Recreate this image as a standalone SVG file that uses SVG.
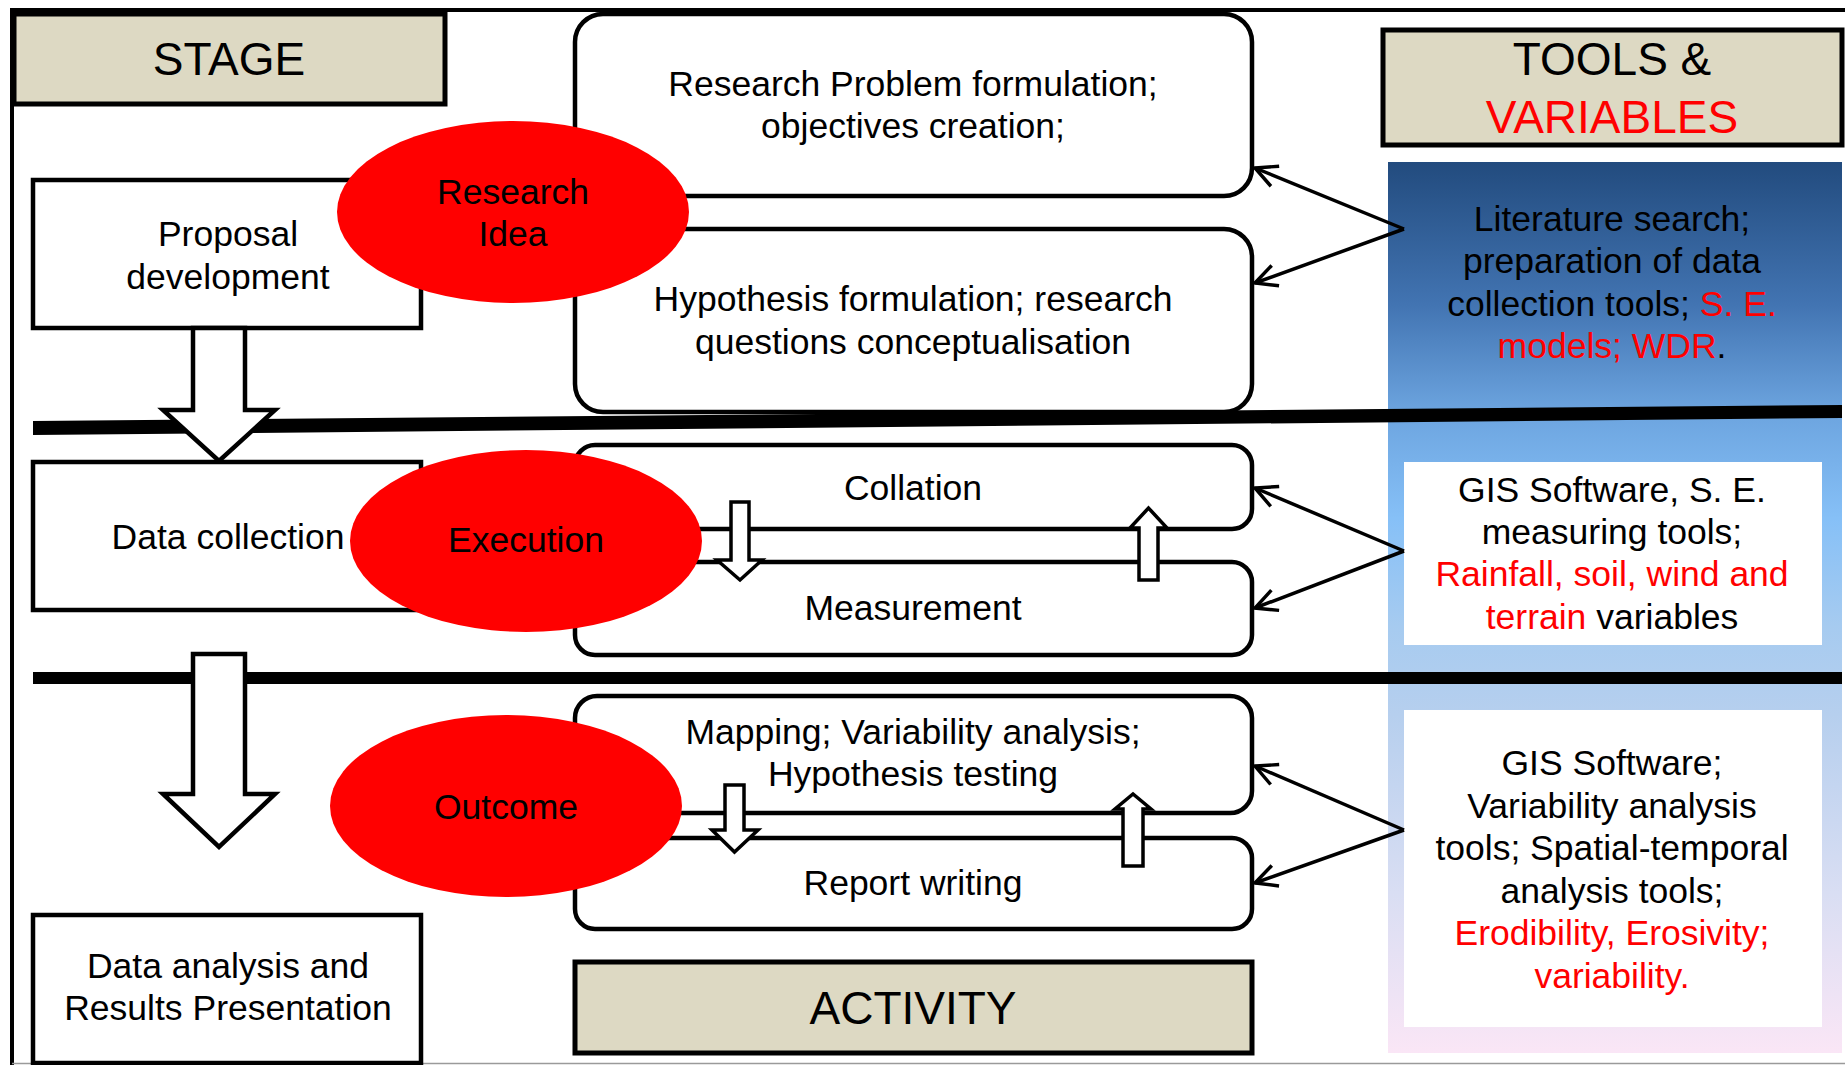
<svg xmlns="http://www.w3.org/2000/svg" width="1845" height="1065" viewBox="0 0 1845 1065">
<defs>
<linearGradient id="panel" x1="0" y1="0" x2="0" y2="1">
<stop offset="0" stop-color="#224B7E"/>
<stop offset="0.16" stop-color="#4274B2"/>
<stop offset="0.28" stop-color="#6CA4DF"/>
<stop offset="0.40" stop-color="#86C0F7"/>
<stop offset="0.52" stop-color="#A6CBF0"/>
<stop offset="0.62" stop-color="#B6CFEE"/>
<stop offset="0.82" stop-color="#D9DEF3"/>
<stop offset="1" stop-color="#FAE6F6"/>
</linearGradient>
<marker id="open" viewBox="0 0 12 12" refX="11" refY="6" markerWidth="26" markerHeight="26" markerUnits="userSpaceOnUse" orient="auto">
<path d="M1,1 L11,6 L1,11" fill="none" stroke="#000" stroke-width="1.6"/>
</marker>
<style>
text{font-family:"Liberation Sans",Arial,sans-serif;font-size:35.5px;fill:#000;text-anchor:middle}
.hd{font-size:46px}
.red{fill:#FF0000}
.tan{fill:#DDD9C3;stroke:#000;stroke-width:5}
.box{fill:#fff;stroke:#000;stroke-width:4.5}
.rbox{fill:#fff;stroke:#000;stroke-width:4.5}
.ell{fill:#FF0000;stroke:none}
.blk{fill:#fff;stroke:#000;stroke-width:4.5;stroke-linejoin:miter}
.sblk{fill:#fff;stroke:#000;stroke-width:3.5}
.conn{fill:none;stroke:#000;stroke-width:3.5}
.sep{fill:#000}
</style>
</defs>
<rect width="1845" height="1065" fill="#fff"/>
<path d="M12,1065 V10 H1845" fill="none" stroke="#000" stroke-width="4"/>
<line x1="12" y1="1063.5" x2="1845" y2="1063.5" stroke="#9A9A9A" stroke-width="1.5"/>

<g id="panel-bg"><rect x="1388" y="162" width="454" height="891" fill="url(#panel)"/></g>

<g id="stage"><rect class="tan" x="14" y="14" width="431" height="90"/><text class="hd" x="229" y="75">STAGE</text></g>
<g id="tools"><rect class="tan" x="1383" y="30" width="459" height="115"/><text class="hd" x="1612" y="75">TOOLS &amp;</text><text class="hd red" x="1612" y="133">VARIABLES</text></g>
<g id="activity"><rect class="tan" x="575" y="962" width="677" height="91"/><text class="hd" x="913" y="1024">ACTIVITY</text></g>

<g id="proposal"><rect class="box" x="33" y="180" width="388" height="148"/><text x="228" y="246">Proposal</text><text x="228" y="289">development</text></g>
<g id="datacollection"><rect class="box" x="33" y="462" width="388" height="148"/><text x="228" y="549">Data collection</text></g>
<g id="dataanalysis"><rect class="box" x="33" y="915" width="388" height="148"/><text x="228" y="978">Data analysis and</text><text x="228" y="1020">Results Presentation</text></g>

<g id="problem"><rect class="rbox" x="575" y="14" width="677" height="182" rx="28"/><text x="913" y="96">Research Problem formulation;</text><text x="913" y="138">objectives creation;</text></g>
<g id="hypothesis"><rect class="rbox" x="575" y="229" width="677" height="183" rx="28"/><text x="913" y="311">Hypothesis formulation; research</text><text x="913" y="354">questions conceptualisation</text></g>
<g id="collation"><rect class="rbox" x="575" y="445" width="677" height="84" rx="20"/><text x="913" y="500">Collation</text></g>
<g id="measurement"><rect class="rbox" x="575" y="562" width="677" height="93" rx="20"/><text x="913" y="620">Measurement</text></g>
<g id="mapping"><rect class="rbox" x="575" y="696" width="677" height="117" rx="22"/><text x="913" y="744">Mapping; Variability analysis;</text><text x="913" y="786">Hypothesis testing</text></g>
<g id="report"><rect class="rbox" x="575" y="838" width="677" height="91" rx="20"/><text x="913" y="895">Report writing</text></g>

<g id="research-idea"><ellipse class="ell" cx="513" cy="212" rx="176" ry="91"/><text x="513" y="204">Research</text><text x="513" y="246">Idea</text></g>
<g id="execution"><ellipse class="ell" cx="526" cy="541" rx="176" ry="91"/><text x="526" y="552">Execution</text></g>
<g id="outcome"><ellipse class="ell" cx="506" cy="806" rx="176" ry="91"/><text x="506" y="819">Outcome</text></g>

<g id="lit"><text x="1612" y="231">Literature search;</text><text x="1612" y="273">preparation of data</text><text x="1612" y="316">collection tools; <tspan class="red">S. E.</tspan></text><text x="1612" y="358"><tspan class="red">models; WDR</tspan>.</text></g>
<g id="gis1"><rect x="1404" y="462" width="418" height="183" fill="#fff"/><text x="1612" y="502">GIS Software, S. E.</text><text x="1612" y="544">measuring tools;</text><text class="red" x="1612" y="586">Rainfall, soil, wind and</text><text x="1612" y="629"><tspan class="red">terrain</tspan> variables</text></g>
<g id="gis2"><rect x="1404" y="710" width="418" height="317" fill="#fff"/><text x="1612" y="775">GIS Software;</text><text x="1612" y="818">Variability analysis</text><text x="1612" y="860">tools; Spatial-temporal</text><text x="1612" y="903">analysis tools;</text><text class="red" x="1612" y="945">Erodibility, Erosivity;</text><text class="red" x="1612" y="988">variability.</text></g>

<g id="connectors">
<polygon class="sep" points="33,421 1842,405 1842,418 33,435"/>
<rect class="sep" x="33" y="672" width="1809" height="12"/>
<polygon class="blk" points="193,328 245,328 245,410 275,410 219,461 163,410 193,410"/>
<polygon class="blk" points="193,654 245,654 245,794 275,794 219,847 163,794 193,794"/>
<polygon class="sblk" points="731,502 749,502 749,560 762,560 740,580 717,560 731,560"/>
<polygon class="sblk" points="1139,580 1158,580 1158,528 1167,528 1148.5,508 1130,528 1139,528"/>
<polygon class="sblk" points="725,785 744,785 744,830 758,830 734.5,852 712,830 725,830"/>
<polygon class="sblk" points="1123,866 1143,866 1143,809 1151,809 1133,794 1115,809 1123,809"/>
<path class="conn" d="M1404,229 L1255,168" marker-end="url(#open)"/>
<path class="conn" d="M1404,229 L1255,283" marker-end="url(#open)"/>
<path class="conn" d="M1404,551 L1255,488" marker-end="url(#open)"/>
<path class="conn" d="M1404,551 L1255,608" marker-end="url(#open)"/>
<path class="conn" d="M1404,830 L1255,766" marker-end="url(#open)"/>
<path class="conn" d="M1404,830 L1255,883" marker-end="url(#open)"/>
</g>
</svg>
